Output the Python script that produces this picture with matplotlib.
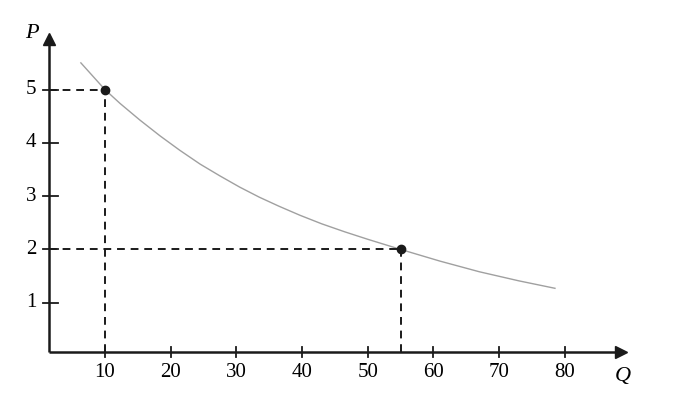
import matplotlib
matplotlib.use("Agg")
import matplotlib.pyplot as plt

# demand curve
curve_q = [6.35, 10, 12.3, 15.3, 18.4, 21.4, 24.5, 27.5, 30.5, 33.5, 36.5, 39.7, 43, 46.5, 50, 55, 61, 67, 73, 78.5]
curve_p = [5.50, 5.00, 4.74, 4.43, 4.13, 3.86, 3.60, 3.38, 3.17, 2.98, 2.81, 2.64, 2.48, 2.33, 2.19, 2.00, 1.78, 1.58, 1.41, 1.27]

# the two marked points
point_q = [10, 55]
point_p = [5, 2]

x_ticks = [10, 20, 30, 40, 50, 60, 70, 80]
y_ticks = [1, 2, 3, 4, 5]

plt.rcParams['font.family'] = ['Liberation Serif', 'DejaVu Serif']

fig = plt.figure(figsize=(6.89, 4.05), dpi=100)
ax = fig.add_axes([0, 0, 1, 1])
ax.set_xlim(-5.96, 98.9)
ax.set_ylim(-0.92, 6.68)

x0, y0 = 1.5, 0.07
x_end, y_end = 88.2, 5.9

# axes with arrows
ax.plot([x0, x_end], [y0, y0], color='#1a1a1a', lw=1.8, solid_capstyle='butt')
ax.plot([x0, x0], [y0, y_end], color='#1a1a1a', lw=1.8, solid_capstyle='butt')
ax.plot(x_end + 0.3, y0, marker='>', color='#1a1a1a', ms=9, clip_on=False)
ax.plot(x0, y_end + 0.05, marker='^', color='#1a1a1a', ms=9, clip_on=False)

# tick marks across the axes
for q in x_ticks:
    ax.plot([q, q], [y0 - 0.09, y0 + 0.1], color='#1a1a1a', lw=1.3)
    ax.text(q, y0 - 0.2, str(q), ha='center', va='top', fontsize=15)
for p in y_ticks:
    ax.plot([x0 - 0.9, x0 + 1.3], [p, p], color='#1a1a1a', lw=1.3)
    ax.text(x0 - 1.9, p, str(p), ha='right', va='center', fontsize=15)

# curve
ax.plot(curve_q, curve_p, color='#a0a0a0', lw=1.0)

# dashed guides
for q, p in zip(point_q, point_p):
    ax.plot([x0, q], [p, p], color='#1a1a1a', lw=1.4, ls=(0, (4, 3)))
    ax.plot([q, q], [y0, p], color='#1a1a1a', lw=1.4, ls=(0, (4, 3)))
ax.plot(point_q, point_p, 'o', color='#1a1a1a', ms=6, zorder=5)

ax.text(x0 - 2.6, 6.05, 'P', style='italic', fontsize=16, ha='center', va='center')
ax.text(x_end + 0.6, -0.38, 'Q', style='italic', fontsize=16, ha='center', va='center')

ax.axis('off')
fig.savefig('out.png', dpi=100)
